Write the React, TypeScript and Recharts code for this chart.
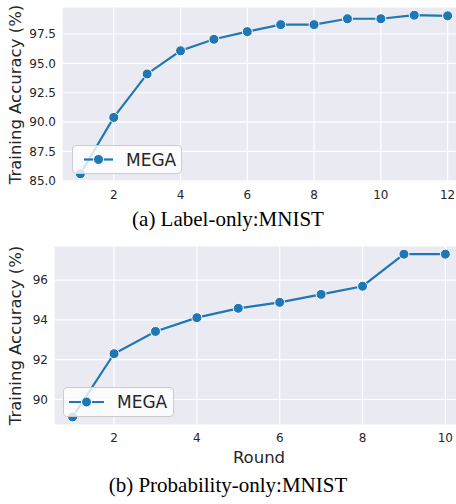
import { LineChart, Line, XAxis, YAxis, CartesianGrid } from 'recharts';

// (a) Label-only: MNIST
const roundsA = [1, 2, 3, 4, 5, 6, 7, 8, 9, 10, 11, 12];
const accA = [85.6, 90.4, 94.1, 96.07, 97.05, 97.7, 98.3, 98.3, 98.8, 98.8, 99.1, 99.05];
const xTicksA = [2, 4, 6, 8, 10, 12];
const yTicksA = [85, 87.5, 90, 92.5, 95, 97.5];

// (b) Probability-only: MNIST
const roundsB = [1, 2, 3, 4, 5, 6, 7, 8, 9, 10];
const accB = [89.13, 92.3, 93.42, 94.11, 94.58, 94.88, 95.28, 95.69, 97.3, 97.3];
const xTicksB = [2, 4, 6, 8, 10];
const yTicksB = [90, 92, 94, 96];

const seriesName = 'MEGA';
const blue = '#1f77b4';
const ink = '#262626';
const sans = '"DejaVu Sans", sans-serif';
const serif = '"Liberation Serif", "Times New Roman", serif';

const dataA = roundsA.map((r, i) => ({ round: r, acc: accA[i] }));
const dataB = roundsB.map((r, i) => ({ round: r, acc: accB[i] }));

const tick = { fill: ink, fontSize: 12, fontFamily: sans };

// rotated y title, centred on the plot
const yLabel = (cy: number) => () => {
  const x = 15;
  return (
    <text
      x={x}
      y={cy}
      transform={`rotate(-90 ${x} ${cy})`}
      textAnchor="middle"
      dominantBaseline="central"
      fill={ink}
      fontSize={16.5}
      fontFamily={sans}
    >
      Training Accuracy (%)
    </text>
  );
};

function LegendBox({ left, top, width, height, lineFrom, lineTo }: any) {
  return (
    <div
      style={{
        position: 'absolute',
        left,
        top,
        width,
        height,
        boxSizing: 'border-box',
        background: 'rgba(255,255,255,0.8)',
        border: '1px solid #cccccc',
        borderRadius: 4,
      }}
    >
      <svg width={width} height={height} style={{ position: 'absolute', left: -1, top: -1 }}>
        <line x1={lineFrom} x2={lineTo} y1={height / 2} y2={height / 2} stroke={blue} strokeWidth={2.2} />
        <circle cx={(lineFrom + lineTo) / 2} cy={height / 2} r={5} fill={blue} stroke="#fff" strokeWidth={1} />
        <text x={lineTo + 13} y={height / 2} dominantBaseline="central" fill={ink} fontSize={17} fontFamily={sans}>
          {seriesName}
        </text>
      </svg>
    </div>
  );
}

const captionStyle: any = {
  position: 'absolute',
  left: 0,
  width: 456,
  textAlign: 'center',
  fontFamily: serif,
  fontSize: 21,
  lineHeight: '21px',
  color: '#000',
  whiteSpace: 'nowrap',
};

export default function App() {
  return (
    <div style={{ position: 'absolute', left: 0, top: 0, width: 456, height: 504, overflow: 'hidden', background: '#fff' }}>
      <div style={{ position: 'absolute', left: 0, top: 0, width: 456, height: 206, overflow: 'hidden' }}>
        <LineChart width={466} height={206} data={dataA} margin={{ top: 7, right: 0, bottom: 0, left: 0 }}>
          <CartesianGrid fill="#EAEAF2" stroke="#fff" strokeWidth={1.2} />
          <XAxis
            dataKey="round"
            type="number"
            domain={[0.45, 12.55]}
            ticks={xTicksA}
            allowDataOverflow
            axisLine={false}
            tickLine={false}
            height={24}
            tick={tick}
          />
          <YAxis
            type="number"
            domain={[84.9, 99.8]}
            ticks={yTicksA}
            allowDataOverflow
            axisLine={false}
            tickLine={false}
            width={62}
            tickMargin={0}
            tick={tick}
            tickFormatter={(v: number) => v.toFixed(1)}
            label={{ content: yLabel(94.5) }}
          />
          <Line
            dataKey="acc"
            name={seriesName}
            stroke={blue}
            strokeWidth={2.2}
            dot={{ r: 5, fill: blue, stroke: '#fff', strokeWidth: 1 }}
            isAnimationActive={false}
          />
        </LineChart>
      </div>
      <LegendBox left={72} top={145} width={110} height={29} lineFrom={12} lineTo={41} />
      <div style={{ ...captionStyle, top: 209 }}>(a) Label-only:MNIST</div>

      <div style={{ position: 'absolute', left: 0, top: 230, width: 456, height: 240, overflow: 'hidden' }}>
        <LineChart width={464} height={240} data={dataB} margin={{ top: 16, right: 0, bottom: 0, left: 0 }}>
          <CartesianGrid fill="#EAEAF2" stroke="#fff" strokeWidth={1.2} />
          <XAxis
            dataKey="round"
            type="number"
            domain={[0.55, 10.45]}
            ticks={xTicksB}
            allowDataOverflow
            axisLine={false}
            tickLine={false}
            height={45}
            tick={tick}
            label={{
              content: () => (
                <text x={259} y={233} textAnchor="middle" fill={ink} fontSize={16.5} fontFamily={sans}>
                  Round
                </text>
              ),
            }}
          />
          <YAxis
            type="number"
            domain={[88.72, 97.71]}
            ticks={yTicksB}
            allowDataOverflow
            axisLine={false}
            tickLine={false}
            width={54}
            tickMargin={0}
            tick={tick}
            label={{ content: yLabel(105.5) }}
          />
          <Line
            dataKey="acc"
            name={seriesName}
            stroke={blue}
            strokeWidth={2.2}
            dot={{ r: 5, fill: blue, stroke: '#fff', strokeWidth: 1 }}
            isAnimationActive={false}
          />
        </LineChart>
      </div>
      <LegendBox left={63} top={387} width={111} height={30} lineFrom={6} lineTo={41} />
      <div style={{ ...captionStyle, top: 475 }}>(b) Probability-only:MNIST</div>
    </div>
  );
}
